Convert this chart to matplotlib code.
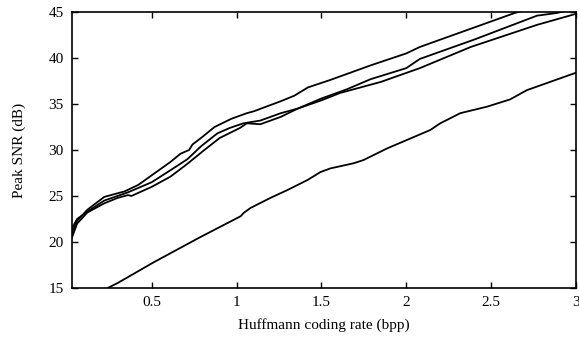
import matplotlib
matplotlib.use("Agg")
import matplotlib.pyplot as plt

# Curve A (top)
a_x = [0.03, 0.06, 0.12, 0.22, 0.34, 0.42, 0.61, 0.67, 0.72, 0.74, 0.79, 0.87, 0.97, 1.06, 1.10,
       1.26, 1.34, 1.42, 1.55, 1.79, 2.0, 2.08, 2.64, 2.72]
a_y = [21.0, 22.3, 23.5, 24.9, 25.5, 26.2, 28.7, 29.6, 30.0, 30.6, 31.3, 32.5, 33.4, 34.0, 34.2,
       35.3, 35.9, 36.8, 37.6, 39.2, 40.5, 41.2, 44.9, 45.3]

# Curve B (middle)
b_x = [0.03, 0.06, 0.12, 0.22, 0.36, 0.5, 0.61, 0.71, 0.79, 0.886, 0.96, 1.04, 1.14, 1.26, 1.36,
       1.5, 1.65, 1.79, 2.0, 2.04, 2.08, 2.4, 2.77, 2.89, 2.95]
b_y = [21.5, 22.5, 23.3, 24.5, 25.4, 26.5, 27.8, 29.0, 30.4, 31.8, 32.4, 32.9, 33.2, 34.0, 34.5,
       35.6, 36.6, 37.7, 38.9, 39.4, 39.9, 42.0, 44.6, 44.9, 45.2]

# Curve C (lower of the three)
c_x = [0.03, 0.06, 0.12, 0.22, 0.30, 0.36, 0.38, 0.5, 0.61, 0.71, 0.81, 0.9, 1.02, 1.06, 1.14,
       1.26, 1.36, 1.5, 1.61, 1.79, 1.85, 2.08, 2.38, 2.77, 3.0]
c_y = [20.5, 22.0, 23.2, 24.2, 24.8, 25.1, 25.0, 26.0, 27.1, 28.5, 30.0, 31.3, 32.4, 32.9, 32.8,
       33.6, 34.5, 35.4, 36.2, 37.1, 37.4, 38.9, 41.2, 43.6, 44.8]

# Curve D (bottom)
d_x = [0.22, 0.241, 0.30, 0.512, 0.788, 1.024, 1.041, 1.082, 1.2, 1.3, 1.418, 1.494, 1.553, 1.688,
       1.747, 1.888, 2.141, 2.2, 2.318, 2.476, 2.612, 2.71, 3.0]
d_y = [14.8, 15.0, 15.55, 17.8, 20.55, 22.8, 23.15, 23.7, 24.8, 25.65, 26.74, 27.6, 28.0, 28.55,
       28.9, 30.18, 32.17, 32.9, 34.0, 34.71, 35.5, 36.5, 38.4]

x_ticks = [0.5, 1, 1.5, 2, 2.5, 3]
x_tick_labels = ["0.5", "1", "1.5", "2", "2.5", "3"]
y_ticks = [15, 20, 25, 30, 35, 40, 45]
y_tick_labels = ["15", "20", "25", "30", "35", "40", "45"]

plt.rcParams['font.family'] = ['Liberation Serif', 'DejaVu Serif']

fig = plt.figure(figsize=(5.79, 3.38), dpi=100)
ax = fig.add_axes([0.1244, 0.148, 0.8704, 0.8165])

for xs, ys in [(a_x, a_y), (b_x, b_y), (c_x, c_y), (d_x, d_y)]:
    ax.plot(xs, ys, color='black', linewidth=1.3, solid_joinstyle='round')

ax.set_xlim(0.03, 3)
ax.set_ylim(15, 45)
ax.set_xticks(x_ticks)
ax.set_xticklabels(x_tick_labels)
ax.set_yticks(y_ticks)
ax.set_yticklabels(y_tick_labels)
ax.tick_params(direction='in', length=4, width=1, top=True, right=True,
               labelsize=11, pad=6)
for s in ax.spines.values():
    s.set_linewidth(1.2)

ax.set_xlabel("Huffmann coding rate (bpp)", fontsize=11, labelpad=6)
ax.set_ylabel("Peak SNR (dB)", fontsize=11, labelpad=16)

fig.savefig("out.png", dpi=100)
